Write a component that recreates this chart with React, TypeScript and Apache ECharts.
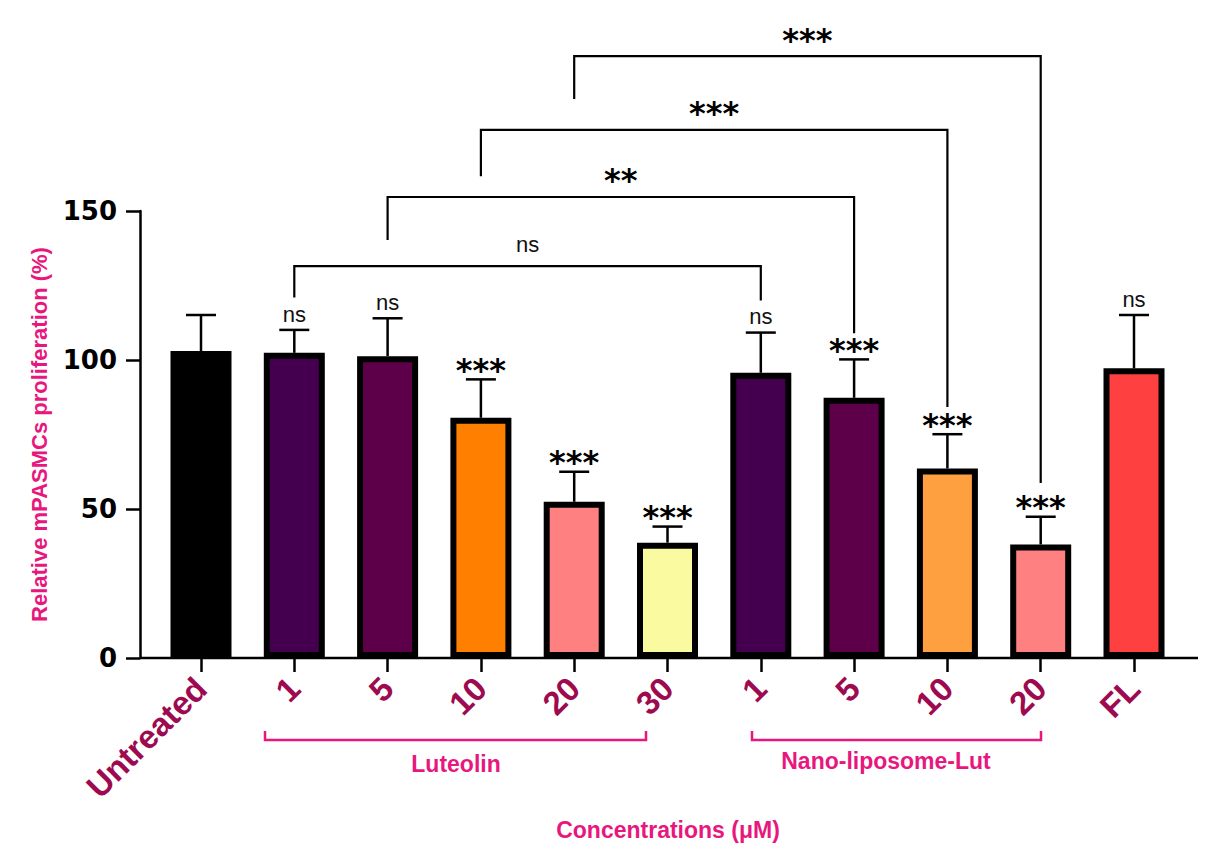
import React, { useEffect, useRef } from "react";
import * as echarts from "echarts";

const catKeys = ["U", "L1", "L5", "L10", "L20", "L30", "N1", "N5", "N10", "N20", "FL"];
const tickLabels = ["Untreated", "1", "5", "10", "20", "30", "1", "5", "10", "20", "FL"];
const meanValues = [103.0, 102.4, 101.3, 80.6, 52.4, 38.7, 95.7, 87.3, 63.6, 38.1, 97.2];
const errorTops = [115.1, 110.1, 114.0, 93.5, 62.5, 44.1, 109.2, 100.2, 75.1, 47.4, 115.1];
const barColors = ["#000000", "#44004F", "#5E0049", "#FF8000", "#FF8080", "#FAFAA0", "#44004F", "#5E0049", "#FFA040", "#FF8080", "#FF4040"];
const sigLabels = ["", "ns", "ns", "***", "***", "***", "ns", "***", "***", "***", "ns"];
// [left index, right index, bracket height, left leg end, right leg end]
const bracketRows = [
  [1, 6, 131.5, 121, 120],
  [2, 7, 154.7, 140.3, 109],
  [3, 8, 177.2, 161.7, 84.2],
  [4, 9, 202, 187.6, 58.7],
];
const bracketLabels = ["ns", "**", "***", "***"];
const yTicks = [0, 50, 100, 150];

const PINK = "#E8177D";
const CRIMSON = "#9E0A50";
const ARIAL = '"Liberation Sans", Arial, sans-serif';
const DEJA = '"DejaVu Sans", sans-serif';

function labelStyle(text: string) {
  if (text === "ns") {
    return { text, fontSize: 22, fontFamily: ARIAL, fontWeight: "normal", fill: "#111", align: "center", verticalAlign: "middle" };
  }
  return { text, fontSize: 32, fontFamily: DEJA, fontWeight: "bold", fill: "#000", align: "center", verticalAlign: "middle" };
}

export default function App() {
  const ref = useRef<HTMLDivElement>(null);
  useEffect(() => {
    if (!ref.current) return;
    const chart = echarts.init(ref.current, null, { renderer: "svg" });
    const option: any = {
      animation: false,
      backgroundColor: "#ffffff",
      grid: { left: 154.35, right: 32.35, top: 211, bottom: 208, containLabel: false },
      xAxis: {
        type: "category",
        data: catKeys,
        axisLine: { show: false },
        axisTick: { show: true, alignWithLabel: true, length: 14, lineStyle: { color: "#000", width: 2.5 } },
        axisLabel: {
          interval: 0,
          rotate: 45,
          margin: 25,
          color: CRIMSON,
          fontFamily: ARIAL,
          fontWeight: "bold",
          fontSize: 33,
          formatter: (_v: string, i: number) => tickLabels[i],
        },
        splitLine: { show: false },
      },
      yAxis: {
        type: "value",
        min: yTicks[0],
        max: yTicks[yTicks.length - 1],
        interval: 50,
        offset: 14.35,
        axisLine: { show: true, lineStyle: { color: "#000", width: 2.5 } },
        axisTick: { show: true, length: 14, lineStyle: { color: "#000", width: 2.5 } },
        axisLabel: { color: "#000", fontFamily: DEJA, fontWeight: "bold", fontSize: 26, margin: 23 },
        splitLine: { show: false },
        name: "Relative mPASMCs proliferation (%)",
        nameLocation: "middle",
        nameRotate: 90,
        nameGap: 90,
        nameTextStyle: { color: PINK, fontFamily: ARIAL, fontWeight: "bold", fontSize: 22 },
      },
      series: [
        {
          type: "bar",
          barWidth: 61,
          data: meanValues.map((v, i) => ({
            value: v,
            itemStyle: { color: barColors[i], borderColor: "#000", borderWidth: 6 },
          })),
          z: 2,
        },
        {
          type: "custom",
          clip: false,
          z: 3,
          data: meanValues.map((v, i) => [i, v, errorTops[i]]),
          encode: { x: 0, y: [1, 2] },
          renderItem: (params: any, api: any) => {
            const i = api.value(0);
            const p0 = api.coord([i, api.value(1)]);
            const p1 = api.coord([i, api.value(2)]);
            const lbl = sigLabels[params.dataIndex];
            const children: any[] = [
              { type: "line", shape: { x1: p0[0], y1: p0[1], x2: p1[0], y2: p1[1] }, style: { stroke: "#000", lineWidth: 2.5 } },
              { type: "line", shape: { x1: p1[0] - 15, y1: p1[1], x2: p1[0] + 15, y2: p1[1] }, style: { stroke: "#000", lineWidth: 2.5 } },
            ];
            if (lbl) {
              const dy = lbl === "ns" ? 15.9 : 9.5;
              children.push({ type: "text", x: p1[0], y: p1[1] - dy, style: labelStyle(lbl) });
            }
            return { type: "group", children };
          },
        },
        {
          type: "custom",
          clip: false,
          z: 3,
          data: bracketRows,
          encode: { x: [0, 1], y: [2, 3, 4] },
          renderItem: (params: any, api: any) => {
            const x1 = api.value(0);
            const x2 = api.value(1);
            const pL = api.coord([x1, api.value(3)]);
            const pA = api.coord([x1, api.value(2)]);
            const pB = api.coord([x2, api.value(2)]);
            const pR = api.coord([x2, api.value(4)]);
            const lbl = bracketLabels[params.dataIndex];
            const dy = lbl === "ns" ? 21.4 : 16.5;
            return {
              type: "group",
              children: [
                { type: "polyline", shape: { points: [pL, pA, pB, pR] }, style: { stroke: "#000", lineWidth: 2.2, fill: null } },
                { type: "text", x: (pA[0] + pB[0]) / 2, y: pA[1] - dy, style: labelStyle(lbl) },
              ],
            };
          },
        },
      ],
      graphic: [
        { type: "line", shape: { x1: 140, y1: 658, x2: 1198, y2: 658 }, style: { stroke: "#000", lineWidth: 2.5 }, z: 10 },
        { type: "polyline", shape: { points: [[265, 731], [265, 740], [646, 740], [646, 731]] }, style: { stroke: PINK, lineWidth: 2.5, fill: null } },
        { type: "polyline", shape: { points: [[752, 731], [752, 740], [1041, 740], [1041, 731]] }, style: { stroke: PINK, lineWidth: 2.5, fill: null } },
        { type: "text", x: 456, y: 764, style: { text: "Luteolin", fill: PINK, fontFamily: ARIAL, fontWeight: "bold", fontSize: 23, align: "center", verticalAlign: "middle" } },
        { type: "text", x: 886, y: 761, style: { text: "Nano-liposome-Lut", fill: PINK, fontFamily: ARIAL, fontWeight: "bold", fontSize: 23, align: "center", verticalAlign: "middle" } },
        { type: "text", x: 668, y: 830, style: { text: "Concentrations (μM)", fill: PINK, fontFamily: ARIAL, fontWeight: "bold", fontSize: 23, align: "center", verticalAlign: "middle" } },
      ],
    };
    chart.setOption(option);
    return () => chart.dispose();
  }, []);
  return <div ref={ref} style={{ position: "absolute", left: 0, top: 0, width: 1213, height: 866 }} />;
}
